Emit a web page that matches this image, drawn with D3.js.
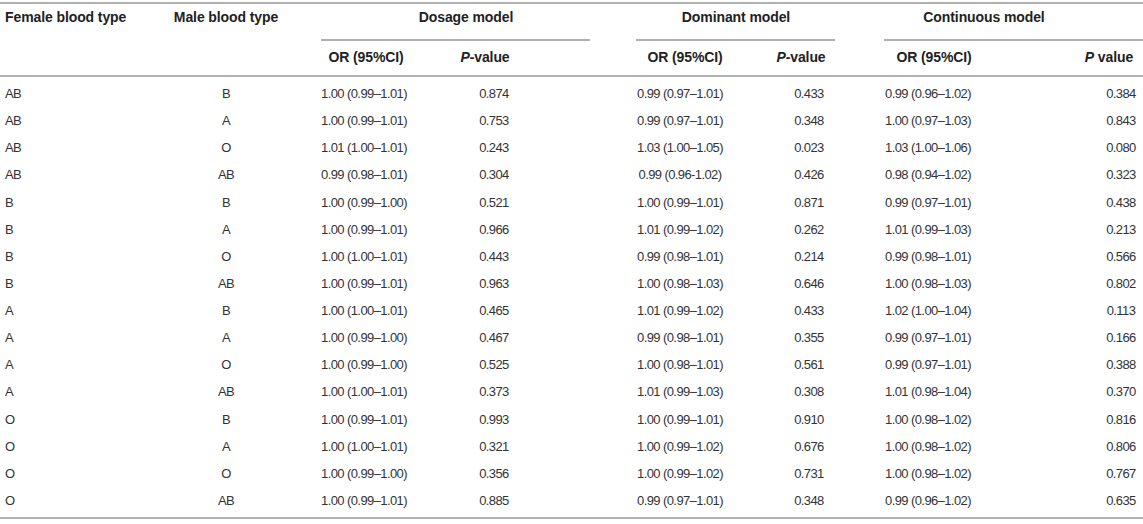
<!DOCTYPE html>
<html>
<head>
<meta charset="utf-8">
<script src="https://cdn.jsdelivr.net/npm/d3@7"></script>
<style>
  body { margin: 0; background: #fff; }
  text { font-family: "Liberation Sans", Arial, Helvetica, sans-serif; }
  .cell { font-size: 13px; fill: #333; letter-spacing: -0.6px; }
  .head { font-size: 14px; font-weight: bold; fill: #222; letter-spacing: -0.1px; }
  .rule { stroke: #b0b0b0; stroke-width: 1.8; }
</style>
</head>
<body>
<script>
      // table values, row by row
      const female = ["AB", "AB", "AB", "AB", "B", "B", "B", "B", "A", "A", "A", "A", "O", "O", "O", "O"];
      const male = ["B", "A", "O", "AB", "B", "A", "O", "AB", "B", "A", "O", "AB", "B", "A", "O", "AB"];
      const dosageOR = [
        "1.00 (0.99–1.01)", "1.00 (0.99–1.01)", "1.01 (1.00–1.01)", "0.99 (0.98–1.01)",
        "1.00 (0.99–1.00)", "1.00 (0.99–1.01)", "1.00 (1.00–1.01)", "1.00 (0.99–1.01)",
        "1.00 (1.00–1.01)", "1.00 (0.99–1.00)", "1.00 (0.99–1.00)", "1.00 (1.00–1.01)",
        "1.00 (0.99–1.01)", "1.00 (1.00–1.01)", "1.00 (0.99–1.00)", "1.00 (0.99–1.01)",
      ];
      const dosageP = ["0.874", "0.753", "0.243", "0.304", "0.521", "0.966", "0.443", "0.963",
        "0.465", "0.467", "0.525", "0.373", "0.993", "0.321", "0.356", "0.885"];
      const dominantOR = [
        "0.99 (0.97–1.01)", "0.99 (0.97–1.01)", "1.03 (1.00–1.05)", "0.99 (0.96-1.02)",
        "1.00 (0.99–1.01)", "1.01 (0.99–1.02)", "0.99 (0.98–1.01)", "1.00 (0.98–1.03)",
        "1.01 (0.99–1.02)", "0.99 (0.98–1.01)", "1.00 (0.98–1.01)", "1.01 (0.99–1.03)",
        "1.00 (0.99–1.01)", "1.00 (0.99–1.02)", "1.00 (0.99–1.02)", "0.99 (0.97–1.01)",
      ];
      const dominantP = ["0.433", "0.348", "0.023", "0.426", "0.871", "0.262", "0.214", "0.646",
        "0.433", "0.355", "0.561", "0.308", "0.910", "0.676", "0.731", "0.348"];
      const continuousOR = [
        "0.99 (0.96–1.02)", "1.00 (0.97–1.03)", "1.03 (1.00–1.06)", "0.98 (0.94–1.02)",
        "0.99 (0.97–1.01)", "1.01 (0.99–1.03)", "0.99 (0.98–1.01)", "1.00 (0.98–1.03)",
        "1.02 (1.00–1.04)", "0.99 (0.97–1.01)", "0.99 (0.97–1.01)", "1.01 (0.98–1.04)",
        "1.00 (0.98–1.02)", "1.00 (0.98–1.02)", "1.00 (0.98–1.02)", "0.99 (0.96–1.02)",
      ];
      const continuousP = ["0.384", "0.843", "0.080", "0.323", "0.438", "0.213", "0.566", "0.802",
        "0.113", "0.166", "0.388", "0.370", "0.816", "0.806", "0.767", "0.635"];

      const groups = ["Dosage model", "Dominant model", "Continuous model"];

      const width = 1143;
      const height = 524;

      const svg = d3
        .select("body")
        .append("svg")
        .attr("width", width)
        .attr("height", height);

      // column layout: x anchor, header x, alignment
      const columns = [
        { key: "female", values: female, x: 5, hx: 5, anchor: "start", head: "Female blood type" },
        { key: "male", values: male, x: 226, hx: 226, anchor: "middle", head: "Male blood type" },
        { key: "dosOR", values: dosageOR, x: 364, hx: 366, anchor: "middle", head: "OR (95%CI)" },
        { key: "dosP", values: dosageP, x: 494, hx: 485, anchor: "middle", head: "P|-value" },
        { key: "domOR", values: dominantOR, x: 680, hx: 685, anchor: "middle", head: "OR (95%CI)" },
        { key: "domP", values: dominantP, x: 809, hx: 801, anchor: "middle", head: "P|-value" },
        { key: "conOR", values: continuousOR, x: 928, hx: 934, anchor: "middle", head: "OR (95%CI)" },
        { key: "conP", values: continuousP, x: 1121, hx: 1109, anchor: "middle", head: "P| value" },
      ];

      const groupSpans = [
        { name: groups[0], x0: 321, x1: 590, tx: 466 },
        { name: groups[1], x0: 636, x1: 835, tx: 736 },
        { name: groups[2], x0: 884, x1: 1143, tx: 984 },
      ];

      const y = d3
        .scaleBand()
        .domain(d3.range(female.length))
        .range([80, 514]);

      // horizontal rules
      const rules = [
        { x0: 0, x1: width, y: 3 },
        { x0: 0, x1: width, y: 76 },
        { x0: 0, x1: width, y: 518 },
      ];
      svg
        .selectAll(".fullrule")
        .data(rules)
        .enter()
        .append("line")
        .attr("class", "rule")
        .attr("x1", (d) => d.x0)
        .attr("x2", (d) => d.x1)
        .attr("y1", (d) => d.y)
        .attr("y2", (d) => d.y);

      svg
        .selectAll(".grouprule")
        .data(groupSpans)
        .enter()
        .append("line")
        .attr("class", "rule")
        .attr("x1", (d) => d.x0)
        .attr("x2", (d) => d.x1)
        .attr("y1", 40)
        .attr("y2", 40);

      svg
        .selectAll(".grouphead")
        .data(groupSpans)
        .enter()
        .append("text")
        .attr("class", "head")
        .attr("x", (d) => d.tx)
        .attr("y", 17)
        .attr("dominant-baseline", "central")
        .attr("text-anchor", "middle")
        .text((d) => d.name);

      // first two column headers sit on the top header row, the rest on the second
      const heads = svg
        .selectAll(".colhead")
        .data(columns)
        .enter()
        .append("text")
        .attr("class", "head")
        .attr("x", (d) => d.hx)
        .attr("y", (d, i) => (i < 2 ? 17 : 57))
        .attr("dominant-baseline", "central")
        .attr("text-anchor", (d) => d.anchor);

      heads.each(function (d) {
        const parts = d.head.split("|");
        const t = d3.select(this);
        if (parts.length == 1) {
          t.text(parts[0]);
        } else {
          t.append("tspan").attr("font-style", "italic").text(parts[0]);
          t.append("tspan").text(parts[1]);
        }
      });

      // body cells
      const colG = svg
        .selectAll(".col")
        .data(columns)
        .enter()
        .append("g")
        .attr("class", "col");

      colG
        .selectAll("text")
        .data((d) => d.values.map((v) => ({ v: v, x: d.x, anchor: d.anchor })))
        .enter()
        .append("text")
        .attr("class", "cell")
        .attr("x", (d) => d.x)
        .attr("y", (d, i) => y(i) + y.bandwidth() / 2)
        .attr("dominant-baseline", "central")
        .attr("text-anchor", (d) => d.anchor)
        .text((d) => d.v);
</script>
</body>
</html>
